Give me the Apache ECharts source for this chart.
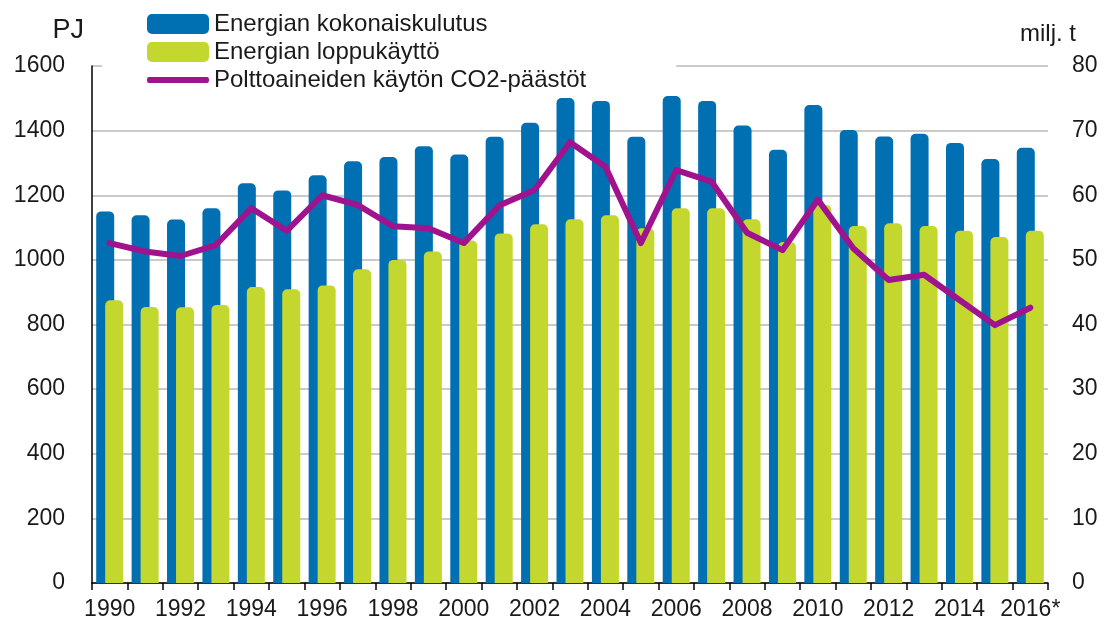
<!DOCTYPE html>
<html>
<head>
<meta charset="utf-8">
<script src="https://cdn.jsdelivr.net/npm/echarts@6/dist/echarts.min.js"></script>
<style>
html,body{margin:0;padding:0;background:#fff;}
#chart{width:1104px;height:622px;}
</style>
</head>
<body>
<div id="chart"></div>
<script>
var years = ['1990','1991','1992','1993','1994','1995','1996','1997','1998','1999','2000','2001','2002','2003','2004','2005','2006','2007','2008','2009','2010','2011','2012','2013','2014','2015','2016*'];
var totalConsumption = [1150,1138,1125,1160,1237,1215,1262,1305,1318,1352,1326,1381,1424,1501,1492,1381,1507,1492,1416,1341,1479,1402,1382,1390,1362,1312,1347];
var finalConsumption = [875,854,853,860,916,909,921,971,1000,1026,1060,1082,1110,1126,1138,1098,1160,1160,1126,1055,1170,1105,1113,1105,1090,1071,1090];
var co2Emissions = [52.6,51.3,50.6,52.3,58.0,54.5,60.0,58.5,55.2,54.9,52.6,58.4,60.8,68.2,64.4,52.6,63.9,62.1,54.2,51.5,59.3,51.8,46.9,47.7,43.8,39.9,42.6];
var leftTicks = {min:0, max:1600, interval:200};
var rightTicks = {min:0, max:80, interval:10};
var names = ['Energian kokonaiskulutus','Energian loppukäyttö','Polttoaineiden käytön CO2-päästöt'];

var FONT = '"Liberation Sans", Arial, sans-serif';
var chart = echarts.init(document.getElementById('chart'), null, {renderer:'canvas'});
chart.setOption({
  animation: false,
  backgroundColor: '#ffffff',
  textStyle: {fontFamily: FONT},
  grid: {left: 92, right: 56, top: 66, bottom: 39, containLabel: false},
  legend: {
    orient: 'vertical',
    left: 102, top: 8,
    padding: [4, 90, 2, 45],
    backgroundColor: '#ffffff',
    itemWidth: 62, itemHeight: 20, itemGap: 4,
    selectedMode: false,
    textStyle: {fontFamily: FONT, fontSize: 24, color: '#1a1a1a'},
    data: [
      {name: names[0], icon: 'roundRect'},
      {name: names[1], icon: 'roundRect'},
      {name: names[2], icon: 'path://M0,0M62,20M2,7L60,7Q62,7 62,10Q62,13 60,13L2,13Q0,13 0,10Q0,7 2,7Z'}
    ]
  },
  xAxis: {
    type: 'category',
    data: years,
    axisLine: {show: true, lineStyle: {color: '#000', width: 1.5}},
    axisTick: {show: true, alignWithLabel: false, interval: 0, length: 7, lineStyle: {color: '#000', width: 1.5}},
    axisLabel: {interval: 1, margin: 15, fontSize: 23, color: '#1a1a1a', fontFamily: FONT},
    splitLine: {show: false}
  },
  yAxis: [
    {
      type: 'value',
      min: leftTicks.min, max: leftTicks.max, interval: leftTicks.interval,
      name: 'PJ',
      nameLocation: 'end',
      nameGap: 22,
      nameTextStyle: {fontSize: 27, color: '#1a1a1a', align: 'right', padding: [0, 8, 0, 0], fontFamily: FONT},
      axisLine: {show: true, lineStyle: {color: '#000', width: 1.5}},
      axisTick: {show: false},
      axisLabel: {margin: 27, fontSize: 23, color: '#1a1a1a', fontFamily: FONT, formatter: function(v){return String(v);}},
      splitLine: {show: true, lineStyle: {color: '#b9b9b9', width: 1.5}}
    },
    {
      type: 'value',
      min: rightTicks.min, max: rightTicks.max, interval: rightTicks.interval,
      position: 'right',
      name: 'milj. t',
      nameLocation: 'end',
      nameGap: 20,
      nameTextStyle: {fontSize: 24, color: '#1a1a1a', align: 'center', fontFamily: FONT},
      axisLine: {show: false},
      axisTick: {show: false},
      axisLabel: {margin: 24, fontSize: 23, color: '#1a1a1a', fontFamily: FONT, formatter: function(v){return String(v);}},
      splitLine: {show: false}
    }
  ],
  series: [
    {
      name: names[0], type: 'bar', yAxisIndex: 0,
      data: totalConsumption,
      barWidth: 18, barGap: '-50%',
      itemStyle: {color: '#0070b2', borderRadius: [5,5,0,0]}
    },
    {
      name: names[1], type: 'bar', yAxisIndex: 0,
      data: finalConsumption,
      barWidth: 18, barGap: '-50%',
      itemStyle: {color: '#c3d72f', borderRadius: [5,5,0,0]}
    },
    {
      name: names[2], type: 'line', yAxisIndex: 1,
      data: co2Emissions,
      symbol: 'none',
      smooth: false,
      z: 5,
      lineStyle: {color: '#a0138e', width: 6, join: 'round', cap: 'round'},
      itemStyle: {color: '#a0138e'}
    }
  ]
});
</script>
</body>
</html>
